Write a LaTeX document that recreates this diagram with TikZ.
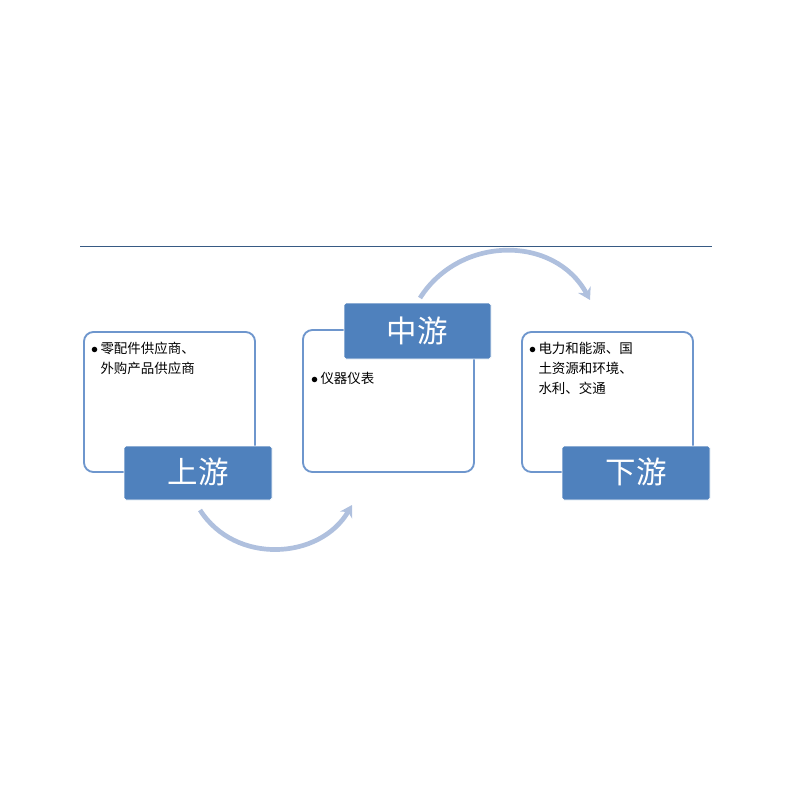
\documentclass[tikz,border=0pt]{standalone}
\usepackage{fontspec}
\newfontfamily\cjk{Noto Sans CJK SC}
\usetikzlibrary{arrows.meta}
\definecolor{boxline}{RGB}{110,150,205}
\definecolor{tagfill}{RGB}{79,129,189}
\definecolor{arcline}{RGB}{175,192,222}
\tikzstyle{stage}=[draw=boxline,line width=1.6pt,rounded corners=8pt,fill=white]
\tikzstyle{tag}=[fill=tagfill,draw=white,line width=0.8pt,rounded corners=1.5pt,text=white,font=\cjk\fontsize{26}{28}\selectfont]
\tikzstyle{item}=[anchor=north west,align=left,font=\cjk\fontsize{11.5}{17}\selectfont,inner sep=0pt]
\tikzstyle{flow}=[-{Stealth[length=10pt,width=12pt]},draw=arcline,line width=4pt]
\begin{document}
\begin{tikzpicture}[x=0.03cm,y=-0.03cm]
	\useasboundingbox (0,0) rectangle (800,800);
	\draw [draw=tagfill!70!black,line width=0.6pt] (80,246) -- (712,246);
	% stages
	\draw [style=stage] (84,332) rectangle (255,472);
	\draw [style=stage] (303,330) rectangle (474,472);
	\draw [style=stage] (522,332) rectangle (693,472);
	\node [style=item] (up) at (91,342) {$\bullet$\,零配件供应商、\\\phantom{$\bullet$\,}外购产品供应商};
	\node [style=item] (mid) at (311,372) {$\bullet$\,仪器仪表};
	\node [style=item] (down) at (529,342) {$\bullet$\,电力和能源、国\\\phantom{$\bullet$\,}土资源和环境、\\\phantom{$\bullet$\,}水利、交通};
	% tags
	\node [style=tag,minimum width=148\pgflinewidth] (tagup) at (198,473) {};
	\node [style=tag,draw=none,fill=none,inner sep=0pt] (l1) at (198,473) {};
	\draw [style=tag] (124,446) rectangle (272,500);
	\node [text=white,font=\cjk\fontsize{26}{28}\selectfont] (tup) at (198,472) {上游};
	\draw [style=tag] (344,303) rectangle (491,359);
	\node [text=white,font=\cjk\fontsize{26}{28}\selectfont] (tmid) at (417,331) {中游};
	\draw [style=tag] (562,446) rectangle (710,500);
	\node [text=white,font=\cjk\fontsize{26}{28}\selectfont] (tdown) at (636,472) {下游};
	% arcs
	\coordinate (a1) at (200,510);
	\coordinate (a2) at (352,505);
	\coordinate (b1) at (420,298);
	\coordinate (b2) at (590,300);
	\draw [style=flow] (a1) .. controls (235,565) and (320,560) .. (a2);
	\draw [style=flow] (b1) .. controls (460,235) and (555,235) .. (b2);
\end{tikzpicture}
\end{document}
